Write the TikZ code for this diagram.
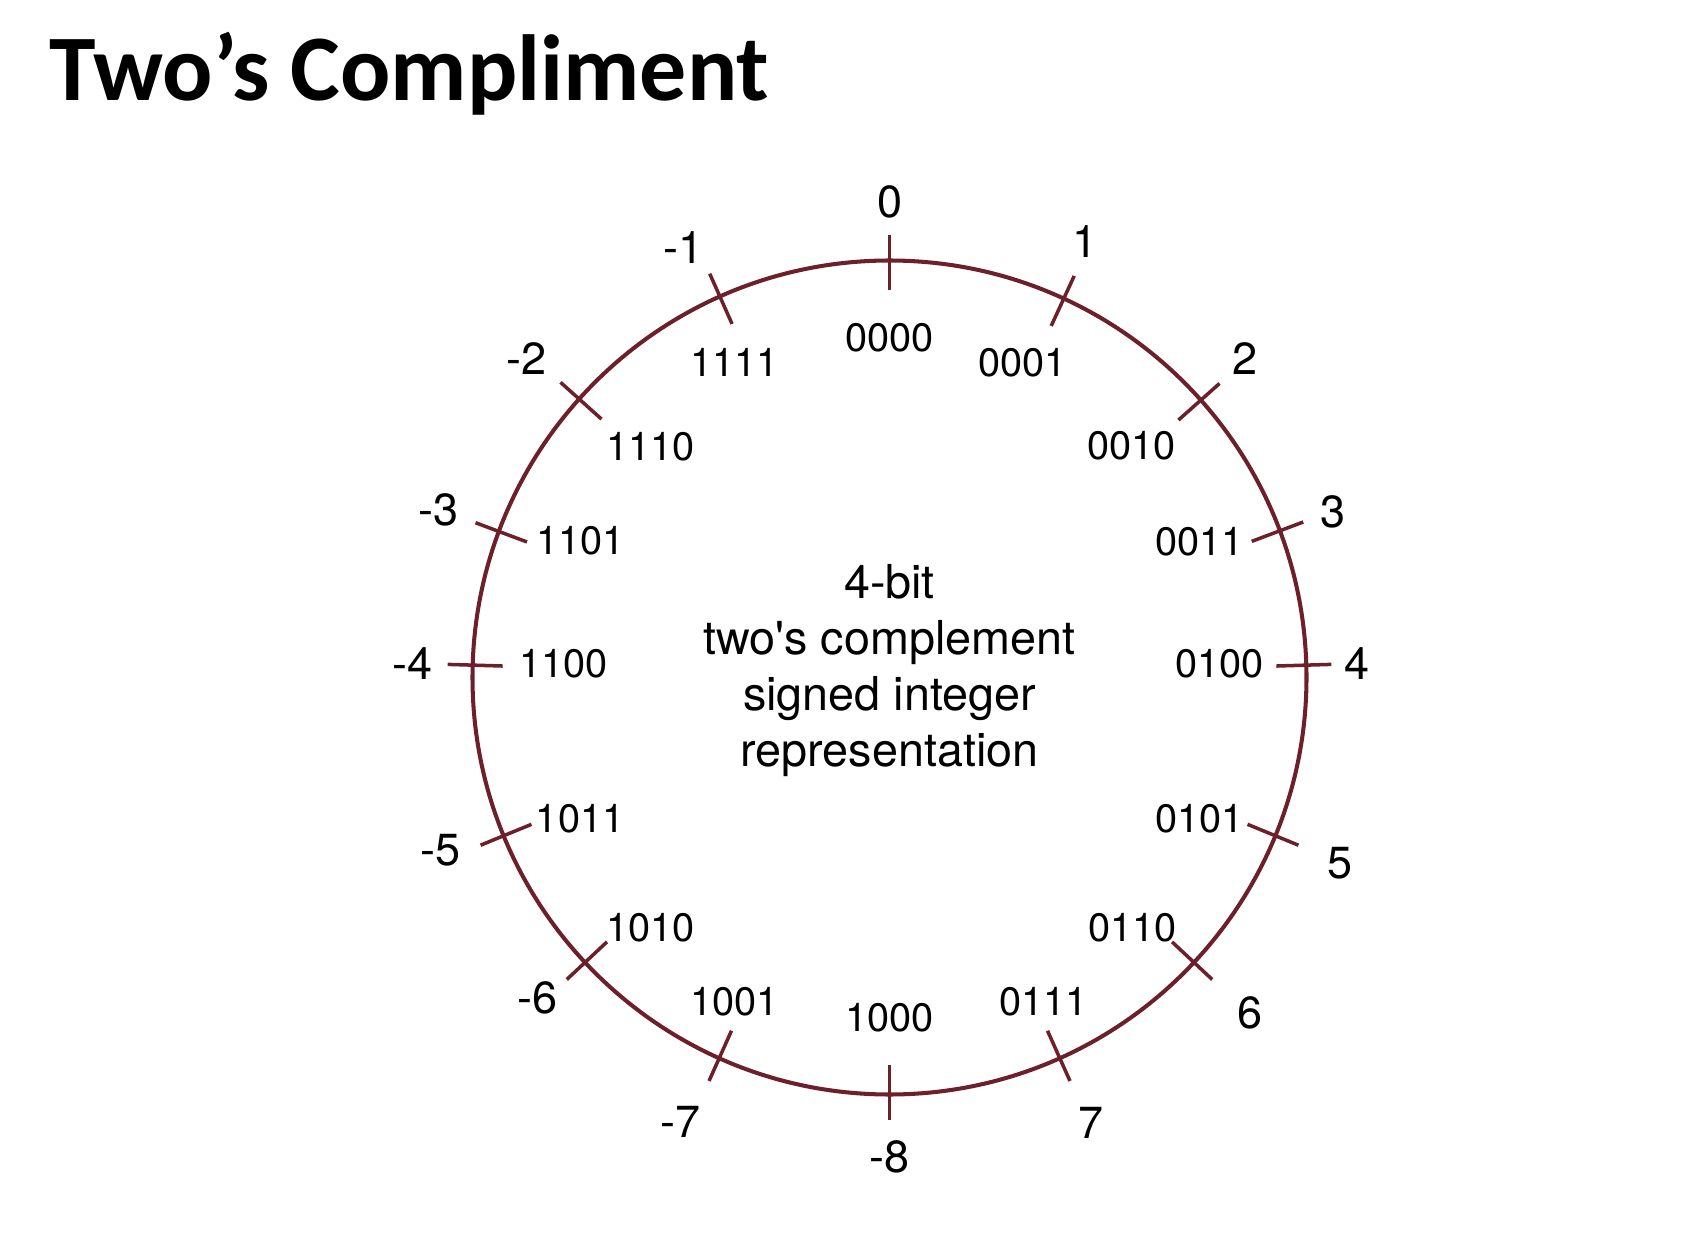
\documentclass[tikz,border=0pt]{standalone}
\usepackage{fontspec}
\setmainfont{TeX Gyre Heros}
\newfontfamily\heros{TeX Gyre Heros}
\newfontfamily\titlefont{Carlito}
\definecolor{wheel}{RGB}{108,32,42}
\tikzset{
  ring/.style={draw=wheel, line width=1.15pt},
  notch/.style={draw=wheel, line width=1pt},
  declabel/.style={font=\heros\fontsize{12.8}{14}\selectfont, inner sep=0pt},
  binlabel/.style={font=\heros\fontsize{11.3}{13}\selectfont, inner sep=0pt},
}
\begin{document}
\begin{tikzpicture}
    \useasboundingbox (0,0) rectangle (17.08,12.46);
    \node [anchor=base west, inner sep=0pt, font=\titlefont\bfseries\fontsize{26.7}{32}\selectfont] (title) at (0.49,11.45) {Two’s Compliment};
    \begin{scope}[shift={(8.895,5.685)}]
        \draw [ring] (0,0) circle (4.17);
        % notch angle / value (angle, radius) / pattern (angle, radius)
        \foreach \k/\t/\dec/\ad/\rd/\bin/\ab/\rb in
                {0/90/0/90/4.76/0000/90/3.40,         1/65.3/1/65.8/4.78/0001/67.1/3.42,
                 2/41.7/2/41.9/4.77/0010/43.7/3.35,   3/20.6/3/20.5/4.73/0011/23.7/3.39,
                 4/1.7/4/1.7/4.68/0100/2.4/3.30,      5/-22.3/5/-22.4/4.87/0101/-24.5/3.41,
                 6/-43.1/6/-42.9/4.92/0110/-45.8/3.49, 7/-65.9/7/-65.7/4.89/0111/-64.6/3.59,
                 8/-90/-8/-90/4.79/1000/-90/3.40,     9/245.9/-7/244.8/4.91/1001/244.4/3.59,
                 10/223.1/-6/222.3/4.76/1010/226.3/3.46, 11/202.3/-5/201/4.81/1011/204.5/3.40,
                 12/178.3/-4/178.3/4.77/1100/177.5/3.26, 13/159.5/-3/159.6/4.81/1101/156.2/3.38,
                 14/138.1/-2/138.7/4.83/1110/136/3.32,   15/114/-1/115.6/4.77/1111/116.2/3.51} {
            \draw [notch] (\t:3.87) -- (\t:4.42);
            \node [declabel] (d\k) at (\ad:\rd) {\dec};
            \node [binlabel] (b\k) at (\ab:\rb) {\bin};
        }
        \node [align=center, font=\heros\fontsize{13.3}{15.9}\selectfont] (caption) at (0,0.07) {4-bit\\two's complement\\signed integer\\representation};
    \end{scope}
\end{tikzpicture}
\end{document}
